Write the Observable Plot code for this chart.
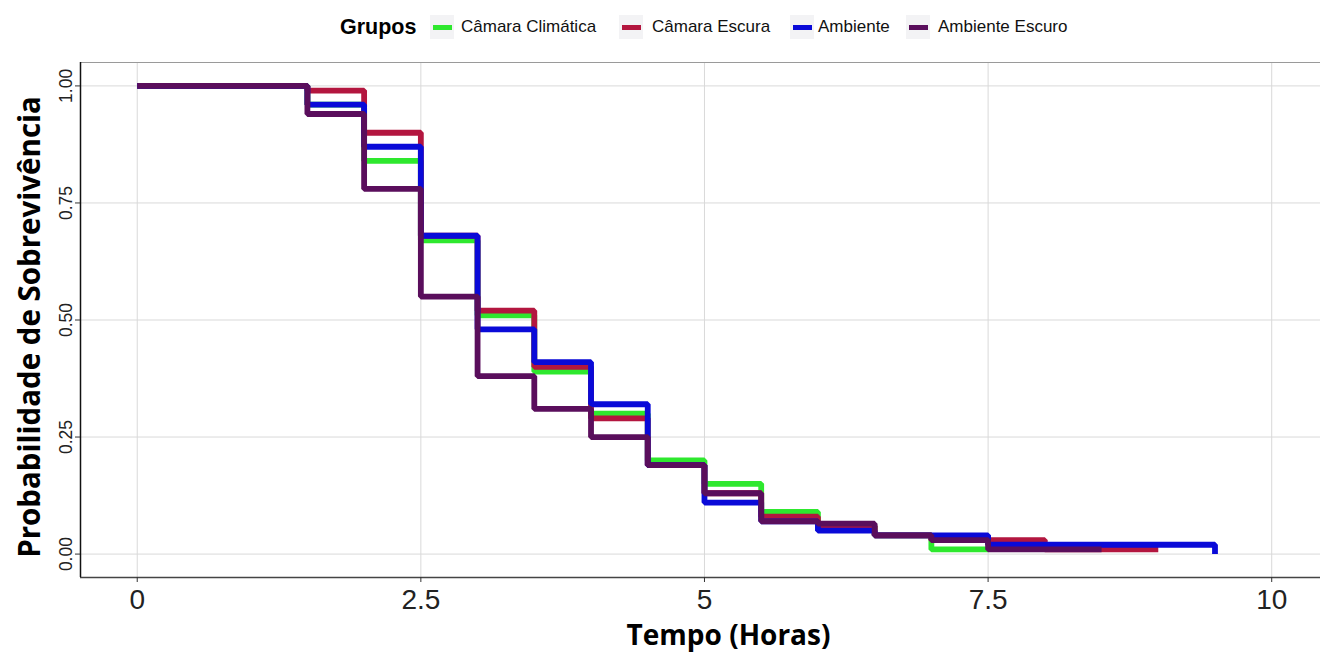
<!DOCTYPE html>
<html>
<head>
<meta charset="utf-8">
<script src="https://cdn.jsdelivr.net/npm/d3@7"></script>
<script src="https://cdn.jsdelivr.net/npm/@observablehq/plot@0.6"></script>
<style>
  html, body { margin: 0; padding: 0; background: #fff; }
  #wrap { position: relative; width: 1320px; height: 654px; }
  #legend { position: absolute; left: 0; top: 0; width: 1320px; height: 54px; font-family: "Liberation Sans", Arial, sans-serif; }
  #legend span { position: absolute; white-space: nowrap; }
  #legend .title { font-weight: bold; font-size: 21.5px; color: #000; top: 15px; }
  #legend .key { width: 24px; height: 24px; background: #f3f3f5; top: 15px; }
  #legend .sw { width: 19px; height: 5px; left: 2.5px; top: 9.5px; }
  #legend .lab { font-size: 17px; color: #111; top: 17px; }
  #chart { position: absolute; left: 0; top: 50px; }
</style>
</head>
<body>
<div id="wrap">
  <div id="legend"></div>
  <div id="chart"></div>
</div>
<script>
// ---- data ----
const times = [0, 1.5, 2, 2.5, 3, 3.5, 4, 4.5, 5, 5.5, 6, 6.5, 7, 7.5, 8, 8.5, 9, 9.5];
const groups = ["Câmara Climática", "Câmara Escura", "Ambiente", "Ambiente Escuro"];
const colors = ["#2ee82e", "#b3163f", "#0a0ad8", "#5a0e5c"];
const camaraClimatica = [1, 0.96, 0.84, 0.67, 0.51, 0.39, 0.30, 0.20, 0.15, 0.09, 0.06, 0.04, 0.01, 0.01];
const camaraEscura = [1, 0.99, 0.90, 0.68, 0.52, 0.40, 0.29, 0.19, 0.13, 0.08, 0.06, 0.04, 0.03, 0.03, 0.01, 0.01, 0.01];
const ambiente = [1, 0.96, 0.87, 0.68, 0.48, 0.41, 0.32, 0.19, 0.11, 0.07, 0.05, 0.04, 0.04, 0.02, 0.02, 0.02, 0.02, 0.0];
const ambienteEscuro = [1, 0.94, 0.78, 0.55, 0.38, 0.31, 0.25, 0.19, 0.13, 0.07, 0.065, 0.04, 0.03, 0.01, 0.01, 0.01];
const xTicks = [0, 2.5, 5, 7.5, 10];
const yTicks = [0, 0.25, 0.5, 0.75, 1];
const xTitle = "Tempo (Horas)";
const yTitle = "Probabilidade de Sobrevivência";
const legendTitle = "Grupos";

const series = [camaraClimatica, camaraEscura, ambiente, ambienteEscuro];
const rows = [];
series.forEach((vals, i) => vals.forEach((v, j) => rows.push({t: times[j], s: v, g: groups[i]})));

// ---- legend (HTML, above the SVG) ----
const leg = document.getElementById("legend");
function add(cls, left, text) {
  const e = document.createElement("span"); e.className = cls; e.style.left = left + "px";
  if (text != null) e.textContent = text;
  leg.appendChild(e); return e;
}
add("title", 340, legendTitle);
const keyLeft = [430, 619, 790, 906];
const labLeft = [461, 652, 818, 938];
groups.forEach((g, i) => {
  const k = add("key", keyLeft[i]);
  const s = document.createElement("span"); s.className = "sw"; s.style.background = colors[i]; k.appendChild(s);
  add("lab", labLeft[i], g);
});

// ---- chart ----
const fmtY = d3.format(".2f");
const chart = Plot.plot({
  width: 1320,
  height: 604,
  marginLeft: 80,
  marginRight: 0,
  marginTop: 12,
  marginBottom: 77,
  style: {fontFamily: "Liberation Sans, Arial, sans-serif", background: "#fff"},
  x: {domain: [-0.5, 10.43], label: null},
  y: {domain: [-0.05, 1.05], label: null},
  color: {domain: groups, range: colors},
  marks: [
    Plot.gridX(xTicks, {stroke: "#d9d9d9", strokeOpacity: 1, strokeWidth: 1}),
    Plot.gridY(yTicks, {stroke: "#d9d9d9", strokeOpacity: 1, strokeWidth: 1}),
    Plot.ruleY([1.05], {stroke: "#9a9a9a", strokeWidth: 1.2}),
    Plot.ruleY([-0.05], {stroke: "#444", strokeWidth: 1.5}),
    Plot.ruleX([-0.5], {stroke: "#111", strokeWidth: 1.5}),
    Plot.axisX(xTicks, {tickSize: 5, tickFormat: () => "", stroke: "#333", label: null}),
    Plot.axisY(yTicks, {tickSize: 5, tickFormat: () => "", stroke: "#333", label: null}),
    Plot.text(xTicks, {x: d => d, frameAnchor: "bottom", dy: 23, text: d => String(d), fontSize: 28, lineAnchor: "middle", fill: "#222"}),
    Plot.text(yTicks, {y: d => d, frameAnchor: "left", dx: -14, rotate: -90, text: d => fmtY(d), fontSize: 17.5, lineAnchor: "middle", textAnchor: "middle", fill: "#222"}),
    Plot.text([xTitle], {frameAnchor: "bottom", dx: 28, dy: 59, text: d => d, fontSize: 28, fontWeight: "bold", fontFamily: "Open Sans", lineAnchor: "middle", fill: "#000"}),
    Plot.text([yTitle], {frameAnchor: "left", dx: -50, dy: 7, rotate: -90, text: d => d, fontSize: 29.5, fontWeight: "bold", fontFamily: "Open Sans", lineAnchor: "middle", textAnchor: "middle", fill: "#000"}),
    Plot.line(rows, {x: "t", y: "s", z: "g", stroke: "g", curve: "step-after", strokeWidth: 5.8, strokeLinejoin: "miter", strokeLinecap: "butt"})
  ]
});
document.getElementById("chart").appendChild(chart);
</script>
</body>
</html>
